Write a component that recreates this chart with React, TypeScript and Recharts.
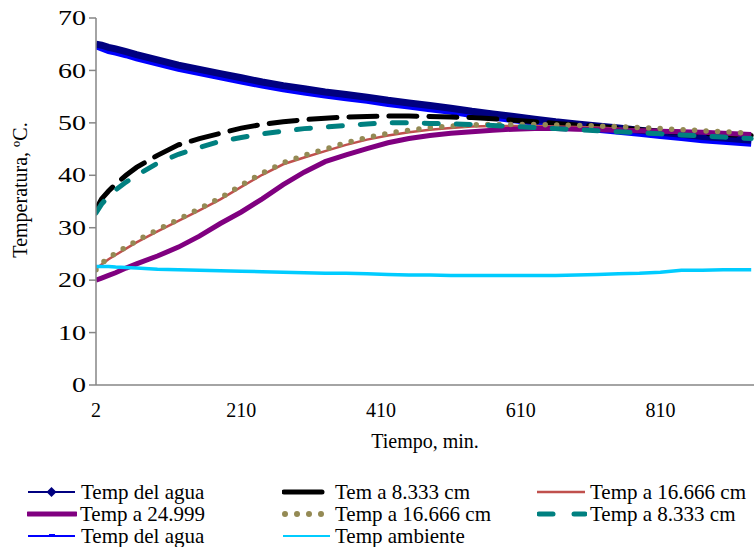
import React from "react";
import { LineChart, Line, XAxis, YAxis } from "recharts";

// tiempo (min)
const times = [2, 10, 20, 30, 45, 60, 90, 120, 150, 180, 210, 240, 270, 300, 330, 360, 390, 420, 450, 480, 510, 540, 570, 600, 630, 660, 690, 720, 750, 780, 810, 840, 870, 900, 940];

const aguaA = [65.0, 64.8, 64.4, 64.1, 63.6, 63.0, 62.0, 61.0, 60.2, 59.4, 58.6, 57.8, 57.1, 56.5, 55.9, 55.4, 54.9, 54.3, 53.8, 53.3, 52.8, 52.2, 51.7, 51.2, 50.7, 50.2, 49.8, 49.4, 49.0, 48.6, 48.2, 47.8, 47.4, 47.1, 46.7];
const tem8A = [33.5, 35.5, 37.0, 38.3, 40.0, 41.5, 43.8, 45.8, 47.0, 48.0, 49.0, 49.7, 50.2, 50.6, 50.9, 51.1, 51.2, 51.3, 51.3, 51.2, 51.1, 51.0, 50.8, 50.5, 50.2, 49.9, 49.6, 49.3, 49.0, 48.7, 48.4, 48.2, 48.0, 47.8, 47.6];
const t16A = [22.2, 23.0, 24.0, 24.8, 26.0, 27.2, 29.3, 31.3, 33.3, 35.4, 37.8, 40.1, 42.1, 43.4, 44.6, 45.8, 46.8, 47.6, 48.2, 48.7, 49.0, 49.3, 49.4, 49.4, 49.4, 49.3, 49.2, 49.1, 48.9, 48.7, 48.6, 48.4, 48.2, 48.0, 47.8];
const t25 = [20.0, 20.4, 20.9, 21.4, 22.3, 23.1, 24.6, 26.3, 28.4, 30.8, 33.0, 35.5, 38.2, 40.6, 42.6, 43.9, 45.1, 46.2, 47.0, 47.6, 48.0, 48.3, 48.6, 48.8, 48.9, 48.9, 48.8, 48.7, 48.6, 48.5, 48.4, 48.3, 48.2, 48.0, 47.8];
const t16B = [22.0, 23.2, 24.3, 25.1, 26.3, 27.5, 29.6, 31.6, 33.6, 35.7, 38.1, 40.4, 42.4, 43.8, 45.0, 46.2, 47.2, 48.0, 48.6, 49.1, 49.4, 49.6, 49.7, 49.7, 49.7, 49.6, 49.5, 49.4, 49.3, 49.1, 48.9, 48.7, 48.5, 48.3, 48.0];
const tem8B = [32.8, 34.5, 36.0, 37.2, 38.7, 40.0, 42.3, 44.0, 45.3, 46.5, 47.2, 47.9, 48.4, 48.9, 49.2, 49.5, 49.8, 50.0, 50.0, 49.9, 49.8, 49.7, 49.5, 49.3, 49.1, 48.9, 48.7, 48.5, 48.3, 48.1, 47.9, 47.7, 47.5, 47.3, 47.0];
const aguaB = [64.6, 64.2, 63.7, 63.4, 62.9, 62.3, 61.3, 60.3, 59.5, 58.7, 57.9, 57.1, 56.4, 55.8, 55.2, 54.7, 54.2, 53.6, 53.1, 52.6, 52.1, 51.5, 51.0, 50.5, 50.0, 49.5, 49.1, 48.7, 48.3, 47.9, 47.5, 47.1, 46.7, 46.4, 46.0];
const ambiente = [22.6, 22.6, 22.6, 22.5, 22.4, 22.3, 22.1, 22.0, 21.9, 21.8, 21.7, 21.6, 21.5, 21.4, 21.3, 21.3, 21.2, 21.1, 21.0, 21.0, 20.9, 20.9, 20.9, 20.9, 20.9, 20.9, 21.0, 21.1, 21.2, 21.3, 21.5, 21.9, 21.9, 22.0, 22.0];

const xTicks = [2, 210, 410, 610, 810];
const yTicks = [0, 10, 20, 30, 40, 50, 60, 70];

const data = times.map((t, i) => ({
  t,
  aguaA: aguaA[i],
  tem8A: tem8A[i],
  t16A: t16A[i],
  t25: t25[i],
  t16B: t16B[i],
  tem8B: tem8B[i],
  aguaB: aguaB[i],
  ambiente: ambiente[i],
}));

const font = "'Liberation Serif', 'DejaVu Serif', serif";
const axisGray = "#868686";

// the original digits on the value axis are drawn a bit wider than normal
const YTick = (props: any) => {
  const label = String(props.payload.value);
  return (
    <text
      x={props.x}
      y={props.y}
      dy="0.355em"
      textAnchor="end"
      fill="#000"
      fontSize={20}
      fontFamily={font}
      textLength={label.length * 14}
      lengthAdjust="spacingAndGlyphs"
    >
      {label}
    </text>
  );
};

type LegendItem = { label: string; x: number; y: number; icon: React.ReactNode };

const legendItems: LegendItem[] = [
  {
    label: "Temp del agua", x: 28, y: 492,
    icon: (
      <>
        <line x1={0} y1={10} x2={47} y2={10} stroke="#000080" strokeWidth={2} />
        <polygon points="23.5,5 28.5,10 23.5,15 18.5,10" fill="#000080" />
      </>
    ),
  },
  {
    label: "Tem a 8.333 cm", x: 282, y: 492,
    icon: <line x1={2} y1={10} x2={40} y2={10} stroke="#000" strokeWidth={5} strokeLinecap="round" />,
  },
  {
    label: "Temp a 16.666 cm", x: 537, y: 492,
    icon: <line x1={0} y1={10} x2={48} y2={10} stroke="#C0504D" strokeWidth={2.5} />,
  },
  {
    label: "Temp a 24.999", x: 27, y: 514,
    icon: <line x1={1} y1={10} x2={49} y2={10} stroke="#800080" strokeWidth={5} strokeLinecap="round" />,
  },
  {
    label: "Temp a 16.666 cm", x: 282, y: 514,
    icon: (
      <>
        {[3, 15, 27, 39].map((cx) => (
          <circle key={cx} cx={cx} cy={10} r={3} fill="#948A54" />
        ))}
      </>
    ),
  },
  {
    label: "Temp a 8.333 cm", x: 537, y: 514,
    icon: (
      <>
        <line x1={2} y1={10} x2={16} y2={10} stroke="#008080" strokeWidth={5} strokeLinecap="round" />
        <line x1={37} y1={10} x2={48} y2={10} stroke="#008080" strokeWidth={5} strokeLinecap="round" />
      </>
    ),
  },
  {
    label: "Temp del agua", x: 28, y: 536,
    icon: (
      <>
        <line x1={0} y1={10} x2={47} y2={10} stroke="#0000FF" strokeWidth={2} />
        <line x1={21} y1={9} x2={27} y2={9} stroke="#0000FF" strokeWidth={2} />
      </>
    ),
  },
  {
    label: "Temp ambiente", x: 282, y: 536,
    icon: <line x1={1} y1={10} x2={48} y2={10} stroke="#00CCFF" strokeWidth={2} />,
  },
];

export default function App() {
  return (
    <div style={{ position: "absolute", left: 0, top: 0, width: 754, height: 547, background: "#fff", overflow: "hidden", fontFamily: font }}>
      <LineChart width={754} height={547} data={data} margin={{ top: 18, right: 0, bottom: 122, left: 0 }}>
        <XAxis
          dataKey="t"
          type="number"
          domain={[2, 944]}
          ticks={xTicks}
          allowDataOverflow
          tickLine={false}
          tickSize={0}
          tickMargin={18}
          height={40}
          axisLine={{ stroke: axisGray, strokeWidth: 1.5 }}
          tick={{ fill: "#000", fontSize: 20, fontFamily: font }}
        />
        <YAxis
          domain={[0, 70]}
          ticks={yTicks}
          width={96}
          tickSize={7}
          tickMargin={3}
          axisLine={{ stroke: axisGray, strokeWidth: 1.5 }}
          tickLine={{ stroke: axisGray, strokeWidth: 1.5 }}
          tick={<YTick />}
        />
        <Line dataKey="aguaB" stroke="#0000FF" strokeWidth={6} dot={false} isAnimationActive={false} />
        <Line dataKey="aguaA" stroke="#000080" strokeWidth={7} dot={false} isAnimationActive={false} />
        <Line dataKey="tem8A" stroke="#000" strokeWidth={5} strokeDasharray="28 12" strokeLinecap="round" dot={false} isAnimationActive={false} />
        <Line dataKey="t16A" stroke="#C0504D" strokeWidth={2.5} dot={false} isAnimationActive={false} />
        <Line dataKey="t25" stroke="#800080" strokeWidth={5} dot={false} isAnimationActive={false} />
        <Line dataKey="t16B" stroke="#948A54" strokeWidth={5.5} strokeDasharray="0 11.5" strokeLinecap="round" dot={false} isAnimationActive={false} />
        <Line dataKey="tem8B" stroke="#008080" strokeWidth={5} strokeDasharray="14 18" strokeLinecap="round" dot={false} isAnimationActive={false} />
        <Line dataKey="ambiente" stroke="#00CCFF" strokeWidth={3.5} dot={false} isAnimationActive={false} />
      </LineChart>

      <div style={{ position: "absolute", left: 425, top: 441, transform: "translate(-50%, -50%)", fontSize: 20, whiteSpace: "nowrap" }}>
        Tiempo, min.
      </div>
      <div style={{ position: "absolute", left: 20, top: 190, transform: "translate(-50%, -50%) rotate(-90deg)", fontSize: 20, whiteSpace: "nowrap" }}>
        Temperatura, ºC.
      </div>

      {legendItems.map((it, i) => (
        <div key={i} style={{ position: "absolute", left: it.x, top: it.y - 11, height: 22, display: "flex", alignItems: "center", whiteSpace: "nowrap", fontSize: 21 }}>
          <svg width={50} height={20} style={{ marginRight: 3 }}>{it.icon}</svg>
          <span>{it.label}</span>
        </div>
      ))}
    </div>
  );
}
